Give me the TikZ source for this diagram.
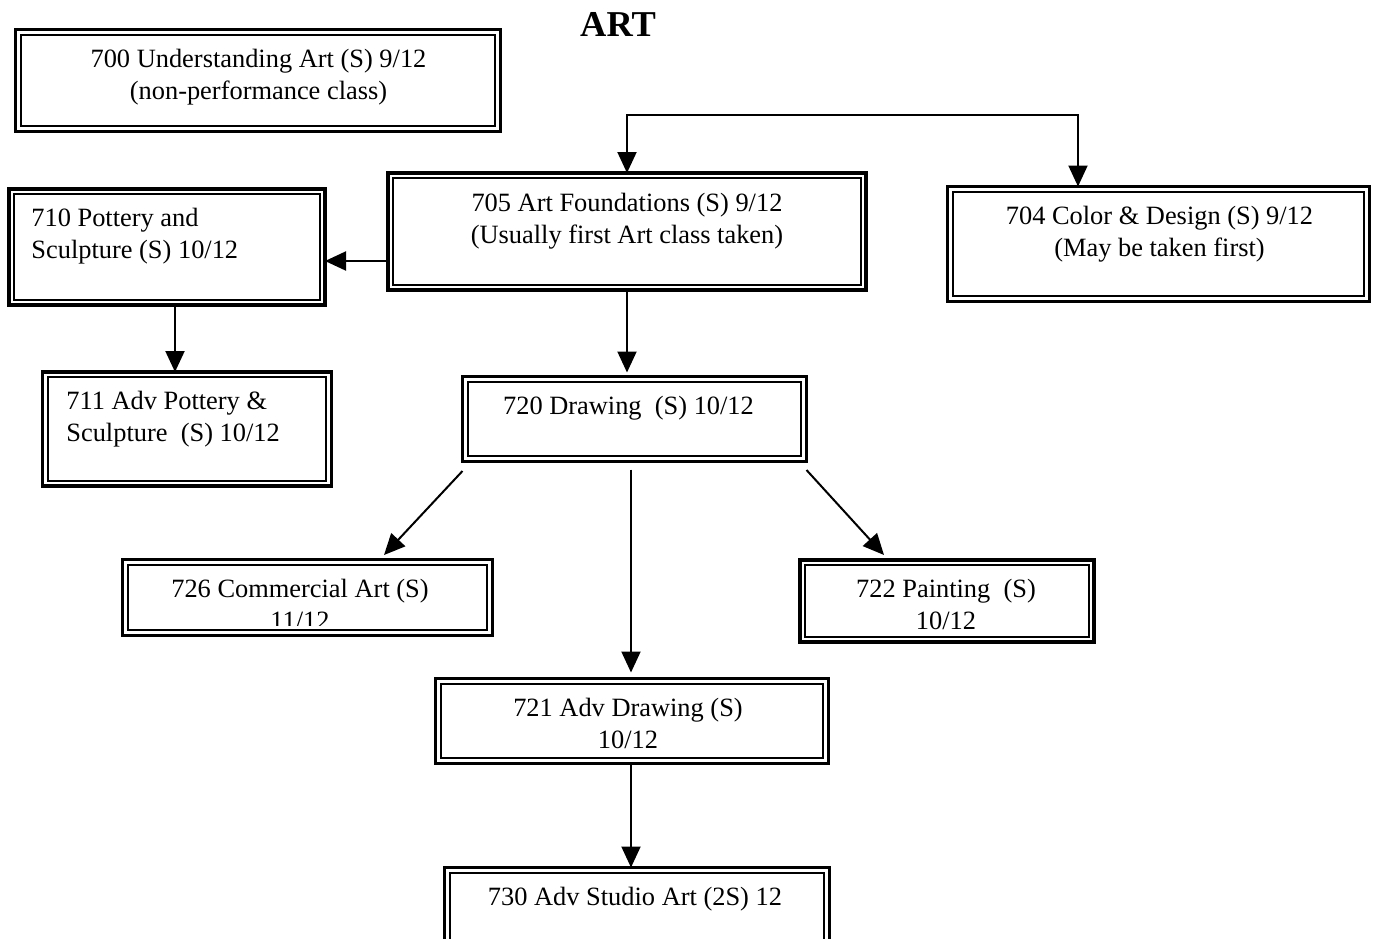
\documentclass[tikz,border=0pt]{standalone}
\usepackage{fontspec}
\setmainfont{Liberation Serif}
\usetikzlibrary{arrows.meta}
\begin{document}
\begin{tikzpicture}[x=0.5pt,y=-0.5pt,
  cbox/.style={draw, line width=1.8pt, inner sep=0pt, outer sep=0pt},
  innerline/.style={line width=1pt},
  lbl/.style={font=\fontsize{13.2}{16}\selectfont, inner sep=0pt, align=center, anchor=base},
  lbll/.style={lbl, align=left, anchor=base west},
  conn/.style={line width=1pt, -{Triangle[length=10.5pt,width=9.5pt]}},
  conn2/.style={line width=1pt, {Triangle[length=10.5pt,width=9.5pt]}-{Triangle[length=10.5pt,width=9.5pt]}},
]
\useasboundingbox (0,0) rectangle (1377,938);
\clip (0,0) rectangle (1377,938);

% title
\node[font=\fontsize{18.2}{20}\selectfont\bfseries, anchor=base, inner sep=0pt] (title) at (618,36) {ART};

% course boxes (outer frame)
\node[cbox, minimum width=242.5pt, minimum height=51pt]   (ua)  at (258,80.5)   {};
\node[cbox, minimum width=239pt,   minimum height=58.5pt] (af)  at (627,231.5)  {};
\node[cbox, minimum width=158pt,   minimum height=58pt]   (ps)  at (167,247)    {};
\node[cbox, minimum width=144.5pt, minimum height=57pt]   (aps) at (187,429)    {};
\node[cbox, minimum width=211pt,   minimum height=57.5pt] (cd)  at (1158.5,244) {};
\node[cbox, minimum width=172pt,   minimum height=42.5pt] (dr)  at (634.5,419)  {};
\node[cbox, minimum width=185pt,   minimum height=38pt]   (ca)  at (307.5,597.5) {};
\node[cbox, minimum width=147pt,   minimum height=41pt]   (pt)  at (947,601)    {};
\node[cbox, minimum width=196.5pt, minimum height=42.5pt] (ad)  at (632,721)    {};
\node[cbox, minimum width=192.5pt, minimum height=46.25pt] (sa) at (637,913.75) {};

% inner frame of each box
\foreach \n in {ua,af,ps,aps,cd,dr,ca,pt,ad,sa}
  \draw[innerline] ([shift={(2.65pt,-2.65pt)}]\n.north west) rectangle ([shift={(-2.65pt,2.65pt)}]\n.south east);

% box texts (two-line texts are placed by the baseline of their last line)
\node[lbl]  (tua)  at (258.5,99)  {700 Understanding Art (S) 9/12\\(non-performance class)};
\node[lbl]  (taf)  at (627,243)   {705 Art Foundations (S) 9/12\\(Usually first Art class taken)};
\node[lbll] (tps)  at (31,258)    {710 Pottery and\\Sculpture (S) 10/12};
\node[lbll] (taps) at (66,441)    {711 Adv Pottery \&\\Sculpture\ \ (S) 10/12};
\node[lbl]  (tcd)  at (1159.5,256) {704 Color \& Design (S) 9/12\\(May be taken first)};
\node[lbl]  (tdr)  at (628.5,414) {720 Drawing\ \ (S) 10/12};
\begin{scope}
  % the second line runs into the frame and is cut off there
  \clip (ca.north west) rectangle ([yshift=5pt]ca.south east);
  \node[lbl] (tca) at (300,629) {726 Commercial Art (S)\\11/12};
\end{scope}
\node[lbl]  (tpt)  at (946,629)   {722 Painting\ \ (S)\\10/12};
\node[lbl]  (tad)  at (628,748)   {721 Adv Drawing (S)\\10/12};
\node[lbl]  (tsa)  at (635,905)   {730 Adv Studio Art (2S) 12};

% connectors
\coordinate (jl) at (627,115);
\coordinate (jr) at (1078,115);
\draw[conn2] (af.north) -- (jl) -- (jr) -- (jr |- cd.north);
\draw[conn] ([yshift=-14.75pt]af.west) -- ([yshift=-14.75pt]af.west -| ps.east);
\draw[conn] ([xshift=4pt]ps.south) -- ([xshift=4pt]ps.south |- aps.north);
\draw[conn] (af.south) -- ([yshift=2pt]af.south |- dr.north);
\draw[conn] ([yshift=-4.75pt]dr.south west) -- ([xshift=38.25pt,yshift=2.25pt]ca.north);
\draw[conn] ([yshift=-4.25pt]dr.south east) -- ([xshift=-31.5pt,yshift=2.5pt]pt.north);
\draw[conn] ([xshift=-1.75pt,yshift=-4pt]dr.south) -- ([xshift=-0.5pt,yshift=3pt]ad.north);
\draw[conn] ([xshift=-0.5pt]ad.south) -- ([xshift=-0.5pt]ad.south |- sa.north);
\end{tikzpicture}
\end{document}
